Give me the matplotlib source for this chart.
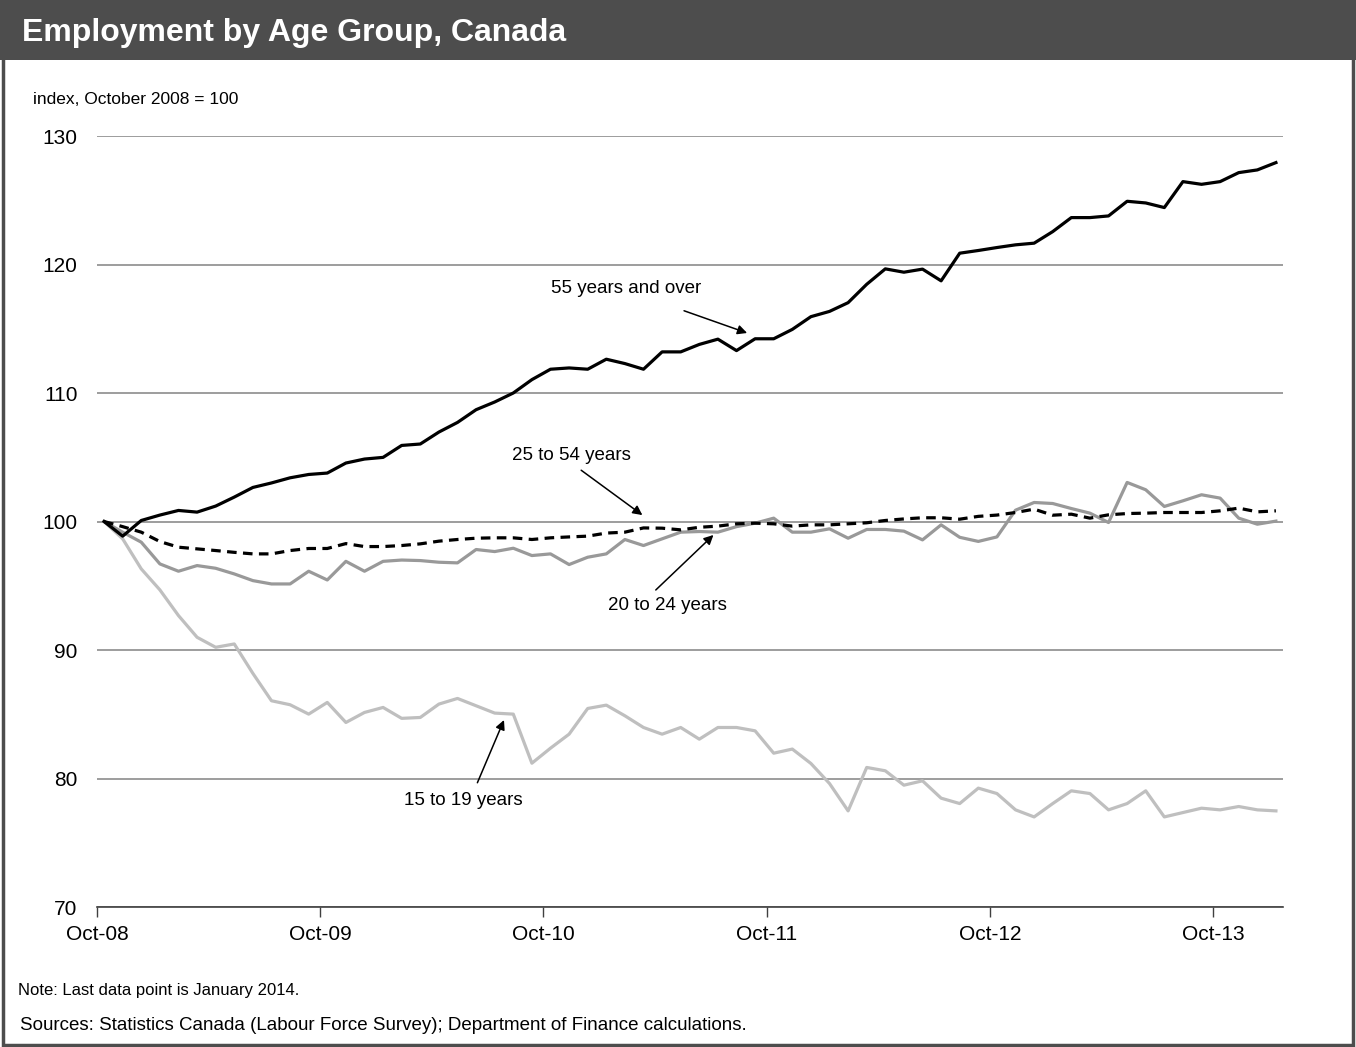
import matplotlib
matplotlib.use("Agg")
import matplotlib.pyplot as plt
from matplotlib.patches import Rectangle
import numpy as np

plt.rcParams['font.family'] = ['Liberation Sans', 'DejaVu Sans']

""" Data: monthly index, October 2008 = 100 (Oct 2008 .. Jan 2014) """
tick_labels = ['Oct-08', 'Oct-09', 'Oct-10', 'Oct-11', 'Oct-12', 'Oct-13']

age_55_over = [100.0, 98.86, 100.08, 100.5, 100.86, 100.73, 101.2, 101.9, 102.65, 103.0,
               103.4, 103.66, 103.77, 104.55, 104.86, 104.99, 105.92, 106.03, 106.96, 107.71,
               108.7, 109.3, 110.0, 111.04, 111.85, 111.95, 111.85, 112.63, 112.29, 111.85,
               113.2, 113.2, 113.78, 114.19, 113.3, 114.22, 114.22, 114.95, 115.94, 116.35,
               117.03, 118.46, 119.66, 119.4, 119.64, 118.73, 120.88, 121.09, 121.32, 121.53,
               121.66, 122.56, 123.65, 123.65, 123.78, 124.92, 124.79, 124.43, 126.45, 126.24,
               126.45, 127.15, 127.36, 127.93]

age_25_54 = [100.0, 99.6, 99.17, 98.44, 98.0, 97.87, 97.74, 97.6, 97.48, 97.48,
             97.74, 97.9, 97.9, 98.28, 98.05, 98.05, 98.13, 98.26, 98.47, 98.6,
             98.7, 98.73, 98.73, 98.6, 98.73, 98.8, 98.86, 99.1, 99.17, 99.5,
             99.48, 99.35, 99.55, 99.64, 99.82, 99.87, 99.82, 99.64, 99.74, 99.74,
             99.82, 99.9, 100.08, 100.2, 100.29, 100.29, 100.18, 100.4, 100.5, 100.7,
             100.96, 100.49, 100.57, 100.26, 100.52, 100.62, 100.65, 100.7, 100.7, 100.7,
             100.83, 101.04, 100.75, 100.83]

age_20_24 = [100.0, 99.17, 98.39, 96.7, 96.13, 96.57, 96.36, 95.92, 95.4, 95.14,
             95.14, 96.13, 95.45, 96.9, 96.13, 96.9, 97.0, 96.96, 96.83, 96.78,
             97.82, 97.66, 97.92, 97.35, 97.48, 96.65, 97.22, 97.48, 98.6, 98.13,
             98.65, 99.17, 99.22, 99.17, 99.6, 99.87, 100.26, 99.17, 99.17, 99.43,
             98.7, 99.38, 99.38, 99.25, 98.57, 99.74, 98.77, 98.45, 98.8, 100.88,
             101.48, 101.4, 101.01, 100.65, 99.92, 103.04, 102.47, 101.17, 101.61, 102.08,
             101.82, 100.26, 99.79, 100.03]

age_15_19 = [100.0, 98.65, 96.31, 94.68, 92.68, 90.99, 90.21, 90.47, 88.18, 86.05,
             85.74, 85.01, 85.92, 84.36, 85.14, 85.53, 84.68, 84.75, 85.79, 86.23,
             85.66, 85.09, 85.01, 81.19, 82.36, 83.45, 85.45, 85.71, 84.88, 83.97,
             83.45, 83.97, 83.06, 83.97, 83.97, 83.71, 81.97, 82.29, 81.17, 79.61,
             77.48, 80.86, 80.6, 79.48, 79.82, 78.47, 78.05, 79.25, 78.83, 77.56,
             77.01, 78.05, 79.04, 78.83, 77.56, 78.05, 79.04, 77.01, 77.35, 77.69,
             77.56, 77.82, 77.56, 77.48]

months = np.arange(len(age_55_over))

""" Figure and frame """
fig = plt.figure(figsize=(13.56, 10.47), dpi=100, facecolor='w')
fig.patches.append(Rectangle((0.002, 0.002), 0.996, 0.996, transform=fig.transFigure,
                             fill=False, edgecolor='#4d4d4d', linewidth=2.5))
fig.patches.append(Rectangle((0.0, 1 - 60 / 1047), 1.0, 60 / 1047, transform=fig.transFigure,
                             facecolor='#4d4d4d', edgecolor='none'))
fig.text(22 / 1356, 1 - 33 / 1047, 'Employment by Age Group, Canada', color='white',
         fontsize=23, fontweight='bold', va='center', ha='left')

ax = fig.add_axes([97 / 1356, 1 - 907 / 1047, (1283 - 97) / 1356, (907 - 136) / 1047])

""" Lines """
ax.plot(months, age_15_19, color='#bfbfbf', lw=2.3, zorder=3)
ax.plot(months, age_20_24, color='#999999', lw=2.3, zorder=4)
ax.plot(months, age_25_54, color='black', lw=2.3, ls=(0, (3, 2)), zorder=5)
ax.plot(months, age_55_over, color='black', lw=2.3, zorder=6)

""" Axes styling """
ax.set_ylim(70, 130)
ax.set_xlim(-0.38, 63.38)
ax.set_yticks(np.arange(70, 131, 10))
ax.yaxis.grid(True, color='#8c8c8c', linewidth=1.2)
ax.set_axisbelow(True)
ax.set_xticks(np.arange(0, 61, 12) - 0.38)
ax.set_xticklabels(tick_labels)
for s in ['top', 'right', 'left']:
    ax.spines[s].set_visible(False)
ax.spines['bottom'].set_color('#404040')
ax.spines['bottom'].set_linewidth(1.2)
ax.tick_params(axis='y', length=0, labelsize=15, pad=14)
ax.tick_params(axis='x', length=7, width=1, color='#404040', labelsize=15, pad=6)

fig.text(33 / 1356, 1 - 100 / 1047, 'index, October 2008 = 100', fontsize=12.5, va='center')

""" Series labels with arrows """
arrow = dict(arrowstyle='-|>', color='black', lw=1.1, mutation_scale=14, shrinkA=0, shrinkB=0)
ax.annotate('', xy=(34.57, 114.67), xytext=(31.18, 116.4), arrowprops=arrow)
ax.text(28.06, 118.1, '55 years and over', fontsize=13.5, ha='center', va='center')
ax.annotate('', xy=(28.94, 100.5), xytext=(25.65, 103.99), arrowprops=arrow)
ax.text(25.1, 105.1, '25 to 54 years', fontsize=13.5, ha='center', va='center')
ax.annotate('', xy=(32.76, 98.95), xytext=(29.66, 94.67), arrowprops=arrow)
ax.text(30.3, 93.5, '20 to 24 years', fontsize=13.5, ha='center', va='center')
ax.annotate('', xy=(21.5, 84.55), xytext=(20.07, 79.67), arrowprops=arrow)
ax.text(19.3, 78.3, '15 to 19 years', fontsize=13.5, ha='center', va='center')

""" Notes """
fig.text(18 / 1356, 1 - 990 / 1047, 'Note: Last data point is January 2014.', fontsize=12, va='center')
fig.text(20 / 1356, 1 - 1025 / 1047,
         'Sources: Statistics Canada (Labour Force Survey); Department of Finance calculations.',
         fontsize=13.5, va='center')

fig.savefig('out.png', dpi=100, facecolor='w')
